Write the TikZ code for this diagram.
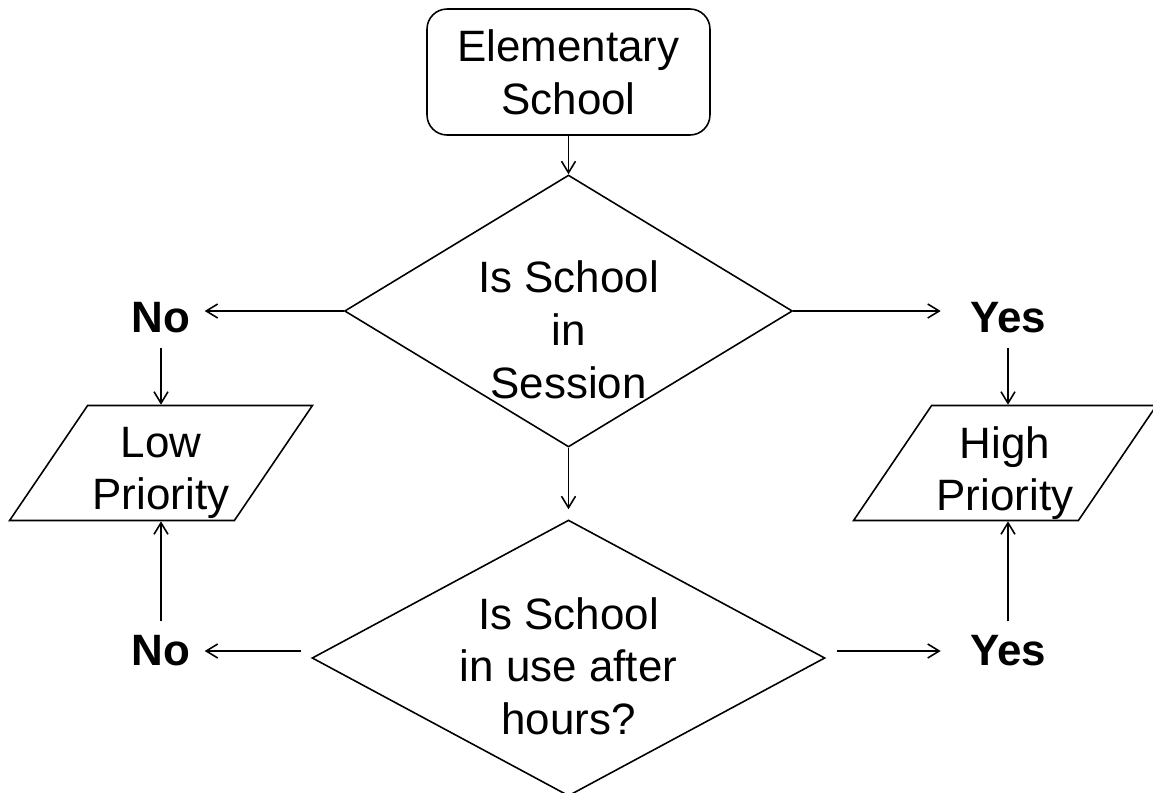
\documentclass[tikz,border=0pt]{standalone}
\usepackage{fontspec}
\setmainfont{Liberation Sans}
\usetikzlibrary{shapes.geometric, arrows.meta}

\tikzset{
	flow/.style={draw, line width=0.9pt},
	startbox/.style={flow, rounded corners=0.4cm, minimum width=5.66cm, minimum height=2.52cm, align=center, inner sep=0pt},
	decision/.style={flow, diamond, inner sep=0pt},
	qtext/.style={align=center},
	outbox/.style={flow, trapezium, trapezium left angle=62, trapezium right angle=118, trapezium stretches=true, minimum width=6.06cm, minimum height=2.3cm, inner sep=2pt},
	answer/.style={font=\fontsize{25}{30}\selectfont\bfseries, inner sep=8pt},
	arr/.style={line width=0.9pt, -{Straight Barb[length=2.3mm,width=2.8mm]}}
}

\begin{document}
\begin{tikzpicture}[x=0.02cm, y=-0.02cm, font=\fontsize{25}{30}\selectfont]
	\useasboundingbox (0,0) rectangle (1153,792);
	\node[startbox] (school) at (568.5,72) {Elementary\\School};
	\node[decision, minimum width=8.96cm, minimum height=5.44cm, label={[qtext, yshift=-0.38cm]center:Is School\\in\\Session}] (q1) at (568.5,311) {};
	\node[decision, minimum width=10.26cm, minimum height=5.52cm, label={[qtext, yshift=-0.16cm]center:Is School\\in use after\\hours?}] (q2) at (568.5,658) {};
	\node[answer] (no1) at (161,318) {No};
	\node[answer] (yes1) at (1008,318) {Yes};
	\node[answer] (no2) at (161,651) {No};
	\node[answer] (yes2) at (1008,651) {Yes};
	\node[outbox, label={[qtext, yshift=-0.2cm]center:Low\\Priority}] (lp) at (161,463) {};
	\node[outbox, label={[qtext, yshift=-0.2cm]center:High\\Priority}] (hp) at (1005,463) {};

	\draw[arr] (school) -- (q1);
	\draw[arr] (q1.west) -- (q1.west -| no1.east);
	\draw[arr, shorten >=0.3cm] (q1.east) -- (q1.east -| yes1.west);
	\draw[arr, shorten >=0.2cm] (q1) -- (q2);
	\draw[arr] (no1) -- (lp);
	\draw[arr] (yes1) -- (yes1 |- hp.north);
	\draw[arr, shorten <=0.2cm] (q2.west |- no2) -- (no2.east);
	\draw[arr, shorten <=0.22cm, shorten >=0.3cm] (q2.east |- yes2) -- (yes2.west);
	\draw[arr] (no2) -- (lp);
	\draw[arr] (yes2) -- (yes2 |- hp.south);
\end{tikzpicture}
\end{document}
